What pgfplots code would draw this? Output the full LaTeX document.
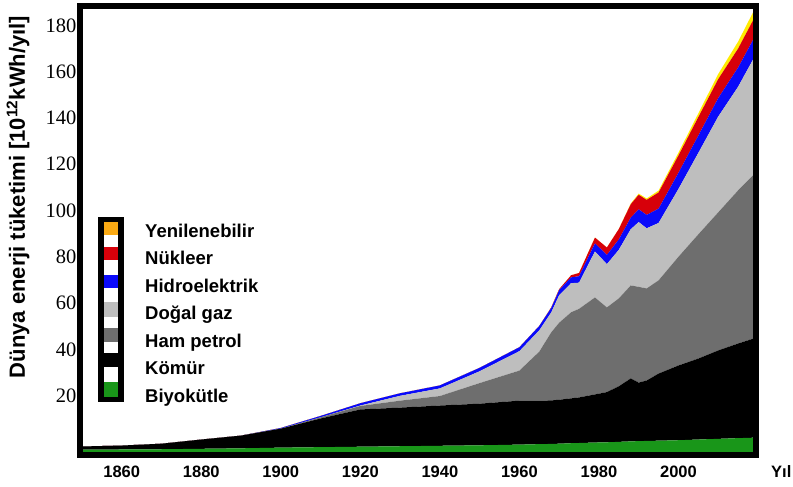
\documentclass[border=0pt]{standalone}
\usepackage{pgfplots}
\pgfplotsset{compat=1.18}
\usepackage{pgfplotstable}
\usepackage{fontspec}
\setmainfont{Liberation Sans}
\newfontfamily\seriffont{Liberation Serif}

\definecolor{cyellow}{RGB}{255,235,0}
\definecolor{corange}{RGB}{250,170,20}
\definecolor{cred}{RGB}{215,0,10}
\definecolor{cblue}{RGB}{10,10,250}
\definecolor{clgray}{RGB}{190,190,190}
\definecolor{cdgray}{RGB}{110,110,110}
\definecolor{cgreen}{RGB}{25,150,25}

\pgfplotstableread{
year base bio coal oil gas hydro nuc ren
1850 -4.5 1.1 1.4 0 0 0 0 0
1860 -4.5 1.2 1.7 0 0 0 0 0
1870 -4.5 1.3 2.4 0 0 0 0 0
1880 -4.5 1.5 4.0 0 0 0 0 0
1890 -4.5 1.7 5.5 0 0 0 0 0
1900 -4.5 2.0 8.2 0 0 0.3 0 0
1910 -4.5 2.2 12.4 0.5 0 0.6 0 0
1920 -4.5 2.4 16.1 1.5 0.2 1.0 0 0
1930 -4.5 2.6 16.7 3.0 2.1 1.1 0 0
1940 -4.5 2.8 17.4 4.1 3.3 1.3 0 0
1950 -4.5 3.0 18.0 8.9 5.1 1.5 0 0
1960 -4.5 3.3 19.0 13.0 8.4 1.7 0 0
1965 -4.5 3.5 18.8 21.2 9.2 1.9 0 0
1968 -4.5 3.6 18.8 29.4 8.6 2.0 0.2 0
1970 -4.5 3.7 19.0 33.3 11.9 2.2 0.4 0
1973 -4.5 3.9 19.4 37.2 12.6 2.5 0.9 0
1975 -4.5 4.0 19.7 38.3 11.3 2.8 1.4 0
1979 -4.5 4.2 20.8 41.9 19.9 3.5 2.5 0
1982 -4.5 4.3 21.7 36.6 18.7 4.0 3.2 0
1985 -4.5 4.5 24.0 38.0 21.0 4.5 4.5 0
1988 -4.5 4.7 27.2 40.2 24.3 5.0 5.8 0.3
1990 -4.5 4.8 25.3 41.4 28.0 5.5 6.3 0.5
1992 -4.5 4.9 26.1 39.8 26.0 5.8 6.5 0.6
1995 -4.5 5.0 29.0 40.3 24.8 6.2 7.0 0.8
2000 -4.5 5.2 32.3 47.0 29.3 7.0 7.5 1.2
2005 -4.5 5.5 35.0 53.7 35.2 7.5 8.0 1.6
2010 -4.5 5.8 38.2 59.7 41.4 8.0 8.2 2.2
2015 -4.5 6.1 40.9 66.2 44.8 8.3 8.2 3.0
2019 -4.5 6.3 42.9 70.9 50.4 8.5 8.5 3.5
}\energy

\begin{document}
\begin{tikzpicture}
\useasboundingbox (-80pt,-31pt) rectangle (713pt,455.5pt);
\begin{axis}[
  name=ax, at={(0pt,0pt)}, anchor=south west,
  scale only axis, width=676pt, height=449.5pt,
  xmin=1849.5, xmax=2019.5, ymin=-5.9, ymax=188.4,
  stack plots=y,
  axis line style={draw=none},
  xtick={1860,1880,...,2000},
  ytick={20,40,...,180},
  major tick length=0pt,
  /pgf/number format/assume math mode=true,
  /pgf/number format/set thousands separator={},
  x tick label style={font=\fontsize{16.5}{16.5}\selectfont\bfseries, yshift=-7pt},
  y tick label style={font=\seriffont\fontsize{20.5}{20.5}\selectfont},
]
\addplot[draw=none, fill=none] table[x=year,y=base]{\energy} \closedcycle;
\addplot[draw=none, fill=cgreen] table[x=year,y=bio]{\energy} \closedcycle;
\addplot[draw=none, fill=black] table[x=year,y=coal]{\energy} \closedcycle;
\addplot[draw=none, fill=cdgray] table[x=year,y=oil]{\energy} \closedcycle;
\addplot[draw=none, fill=clgray] table[x=year,y=gas]{\energy} \closedcycle;
\addplot[draw=none, fill=cblue] table[x=year,y=hydro]{\energy} \closedcycle;
\addplot[draw=none, fill=cred] table[x=year,y=nuc]{\energy} \closedcycle;
\addplot[draw=none, fill=cyellow] table[x=year,y=ren]{\energy} \closedcycle;
\end{axis}
\draw[line width=6pt] (ax.south west) rectangle (ax.north east);
% y label
\node[rotate=90, anchor=base, inner sep=0pt, font=\fontsize{22}{22}\selectfont\bfseries]
  at (-55pt,258.5pt) {Dünya enerji tüketimi [10\textsuperscript{12}kWh/yıl]};
% x label
\node[anchor=base west, inner sep=0pt, font=\fontsize{16.5}{16.5}\selectfont\bfseries]
  at (691pt,-22pt) {Yıl};
% legend
\fill[black] (18pt,53pt) rectangle (44pt,238pt);
\fill[white] (24pt,58pt) rectangle (38pt,233pt);
\fill[corange] (24pt,220pt) rectangle (38pt,233pt);
\fill[cred] (24pt,195pt) rectangle (38pt,208pt);
\fill[cblue] (24pt,167pt) rectangle (38pt,180pt);
\fill[clgray] (24pt,138pt) rectangle (38pt,153pt);
\fill[cdgray] (24pt,113pt) rectangle (38pt,127pt);
\fill[black] (24pt,88pt) rectangle (38pt,102pt);
\fill[cgreen] (24pt,58pt) rectangle (38pt,73pt);
\begin{scope}[every node/.style={anchor=base west, inner sep=0pt, font=\fontsize{18.5}{18.5}\selectfont\bfseries}]
\node at (65pt,218.3pt) {Yenilenebilir};
\node at (65pt,190.8pt) {Nükleer};
\node at (65pt,163.3pt) {Hidroelektrik};
\node at (65pt,135.8pt) {Doğal gaz};
\node at (65pt,108.3pt) {Ham petrol};
\node at (65pt,80.8pt) {Kömür};
\node at (65pt,53.3pt) {Biyokütle};
\end{scope}
\end{tikzpicture}
\end{document}
